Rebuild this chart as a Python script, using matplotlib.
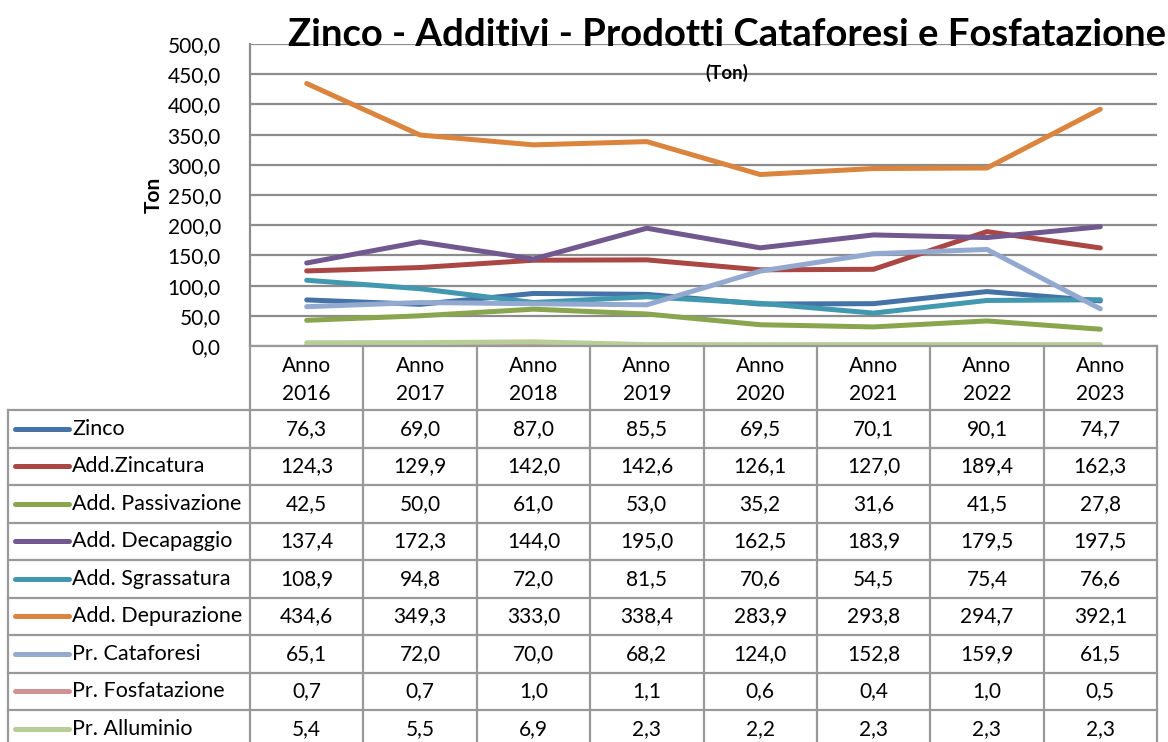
import matplotlib.pyplot as plt
from matplotlib.ticker import FuncFormatter

plt.rcParams['font.family'] = ['Lato', 'DejaVu Sans']

years = ["2016", "2017", "2018", "2019", "2020", "2021", "2022", "2023"]
categories = ["Anno\n" + y for y in years]

series_names = [
    "Zinco", "Add.Zincatura", "Add. Passivazione", "Add. Decapaggio",
    "Add. Sgrassatura", "Add. Depurazione", "Pr. Cataforesi",
    "Pr. Fosfatazione", "Pr. Alluminio",
]
zinco = [76.3, 69.0, 87.0, 85.5, 69.5, 70.1, 90.1, 74.7]
zincatura = [124.3, 129.9, 142.0, 142.6, 126.1, 127.0, 189.4, 162.3]
passivazione = [42.5, 50.0, 61.0, 53.0, 35.2, 31.6, 41.5, 27.8]
decapaggio = [137.4, 172.3, 144.0, 195.0, 162.5, 183.9, 179.5, 197.5]
sgrassatura = [108.9, 94.8, 72.0, 81.5, 70.6, 54.5, 75.4, 76.6]
depurazione = [434.6, 349.3, 333.0, 338.4, 283.9, 293.8, 294.7, 392.1]
cataforesi = [65.1, 72.0, 70.0, 68.2, 124.0, 152.8, 159.9, 61.5]
fosfatazione = [0.7, 0.7, 1.0, 1.1, 0.6, 0.4, 1.0, 0.5]
alluminio = [5.4, 5.5, 6.9, 2.3, 2.2, 2.3, 2.3, 2.3]

values = [zinco, zincatura, passivazione, decapaggio, sgrassatura,
          depurazione, cataforesi, fosfatazione, alluminio]
colors = ["#4572A7", "#AA4643", "#89A54E", "#71588F", "#4198AF",
          "#DB843D", "#93A9CF", "#D19392", "#B9CD96"]

W, H = 1168, 742
fig = plt.figure(figsize=(W / 100, H / 100), dpi=100)

# plot area in pixels
px0, px1 = 250, 1157
py_top, py_bot = 44, 346
ax = fig.add_axes([px0 / W, 1 - py_bot / H, (px1 - px0) / W, (py_bot - py_top) / H])

x = list(range(len(years)))
for vals, col in zip(values, colors):
    ax.plot(x, vals, color=col, lw=3.6, solid_capstyle='round', zorder=3)

ax.set_xlim(-0.5, len(years) - 0.5)
ax.set_ylim(0, 500)
ax.set_yticks(range(0, 501, 50))
ax.yaxis.set_major_formatter(FuncFormatter(lambda v, p: f"{v:.1f}".replace(".", ",")))
ax.tick_params(axis='y', length=0, pad=21, labelsize=15)
ax.set_xticks([])
ax.grid(axis='y', color='#8c8c8c', lw=1.6)
for s in ['top', 'right', 'bottom']:
    ax.spines[s].set_visible(False)
ax.spines['left'].set_color('#8c8c8c')
ax.spines['left'].set_linewidth(1.6)
ax.set_ylabel("Ton", fontsize=15, fontweight='bold', labelpad=3)

# overlay in pixel coordinates for title and data table
ov = fig.add_axes([0, 0, 1, 1], facecolor='none')
ov.set_xlim(0, W)
ov.set_ylim(H, 0)
ov.axis('off')

ov.text(727, 46, "Zinco - Additivi - Prodotti Cataforesi e Fosfatazione",
        fontsize=27.5, fontweight='bold', ha='center', va='baseline')
ov.text(727, 79, "(Ton)", fontsize=13.5, fontweight='bold', ha='center', va='baseline')

gc = '#999999'
cw = (px1 - px0) / len(years)
col_edges = [px0 + i * cw for i in range(len(years) + 1)]
row_top = 410
rh = 37.5
n = len(series_names)
row_edges = [row_top + i * rh for i in range(n + 1)]

# header cells
for xe in col_edges:
    ov.plot([xe, xe], [py_bot, row_top], color=gc, lw=1.6)
ov.plot([px0, px1], [py_bot, py_bot], color=gc, lw=1.6)
for i, c in enumerate(categories):
    ov.text(px0 + (i + 0.5) * cw, 380, c, fontsize=15, ha='center', va='center',
            linespacing=1.45)

# data rows
tx0 = 8
for ye in row_edges:
    ov.plot([tx0, px1], [ye, ye], color=gc, lw=1.6)
for xe in [tx0] + col_edges:
    ov.plot([xe, xe], [row_top, row_edges[-1]], color=gc, lw=1.6)

for r, (name, vals, col) in enumerate(zip(series_names, values, colors)):
    yc = row_top + (r + 0.5) * rh
    ov.plot([15, 69], [yc, yc], color=col, lw=3.6, solid_capstyle='round')
    ov.text(72, yc, name, fontsize=15.5, ha='left', va='center')
    for i, v in enumerate(vals):
        ov.text(px0 + (i + 0.5) * cw, yc, f"{v:.1f}".replace(".", ","),
                fontsize=15, ha='center', va='center')

fig.savefig("out.png", dpi=100)
